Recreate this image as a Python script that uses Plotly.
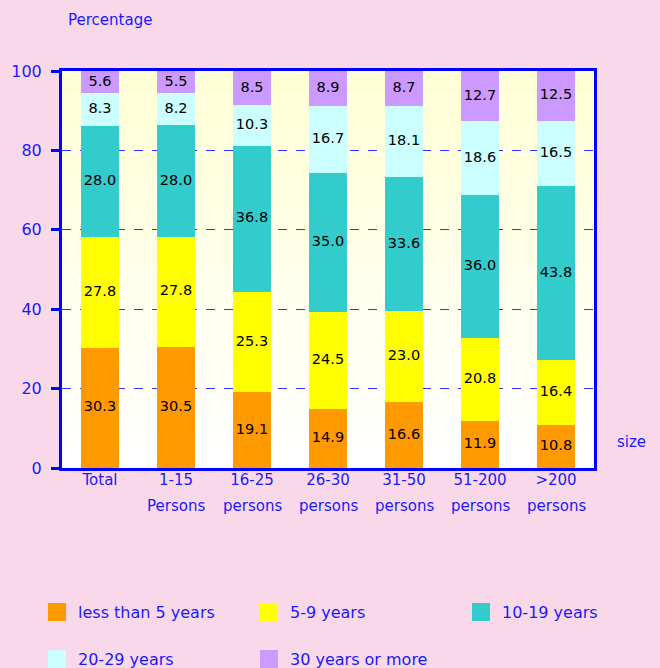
import plotly.graph_objects as go

categories = ["Total", "1-15", "16-25", "26-30", "31-50", "51-200", ">200"]
second_line = ["", "Persons", "persons", "persons", "persons", "persons", "persons"]
series_names = ["less than 5 years", "5-9 years", "10-19 years", "20-29 years", "30 years or more"]
less_than_5 = [30.3, 30.5, 19.1, 14.9, 16.6, 11.9, 10.8]
y5_9 = [27.8, 27.8, 25.3, 24.5, 23.0, 20.8, 16.4]
y10_19 = [28.0, 28.0, 36.8, 35.0, 33.6, 36.0, 43.8]
y20_29 = [8.3, 8.2, 10.3, 16.7, 18.1, 18.6, 16.5]
y30_plus = [5.6, 5.5, 8.5, 8.9, 8.7, 12.7, 12.5]
y_ticks = [0, 20, 40, 60, 80, 100]

series_values = [less_than_5, y5_9, y10_19, y20_29, y30_plus]
colors = ["#FF9900", "#FFFF00", "#33CCCC", "#CCFFFF", "#CC99FF"]

BLUE = "#1a1aff"
PINK = "#F9D9E9"
FONT = "DejaVu Sans"
W, H = 660, 668
L, R, T, B = 62, 594, 71, 468

fig = go.Figure()
base = [0.0] * len(categories)
label_x, label_y, label_t = [], [], []
for name, vals, col in zip(series_names, series_values, colors):
    fig.add_trace(go.Bar(
        x=categories, y=vals, name=name, marker=dict(color=col, line=dict(width=0)),
        width=0.5, showlegend=False, hoverinfo="x+y+name",
    ))
    for i, v in enumerate(vals):
        label_x.append(categories[i])
        label_y.append(base[i] + v / 2)
        label_t.append(f"{v:.1f}")
        base[i] += v

fig.add_trace(go.Scatter(
    x=label_x, y=label_y, text=label_t, mode="text", textposition="middle center",
    textfont=dict(color="black", size=14.5, family=FONT), showlegend=False,
    hoverinfo="skip", cliponaxis=False,
))

shapes = []
# gradient plot background
n = 40
for i in range(n):
    t = i / n
    c = (255, 255, int(213 + (255 - 213) * (1 - t)))
    shapes.append(dict(type="rect", xref="x domain", yref="y domain",
                       x0=0, x1=1, y0=t, y1=(i + 1) / n + 0.001, layer="below",
                       line=dict(width=0), fillcolor=f"rgb{c}"))

def px2x(px):
    return (px - L) / (R - L)

def py2y(py):
    return (B - py) / (B - T)

annotations = []
for cat, sl in zip(categories, second_line):
    if sl:
        annotations.append(dict(x=cat, xref="x", y=0, yref="paper", yshift=-38,
                                text=sl, showarrow=False, yanchor="middle",
                                font=dict(color=BLUE, size=15, family=FONT)))
annotations.append(dict(x=px2x(110), y=py2y(20), xref="paper", yref="paper", text="Percentage",
                        showarrow=False, xanchor="center", yanchor="middle",
                        font=dict(color=BLUE, size=15, family=FONT)))
annotations.append(dict(x=px2x(631), y=py2y(442), xref="paper", yref="paper", text="size",
                        showarrow=False, xanchor="center", yanchor="middle",
                        font=dict(color=BLUE, size=15, family=FONT)))

# manual legend
legend_pos = [(48, 612), (260, 612), (472, 612), (48, 659), (260, 659)]
for (lx, ly), name, col in zip(legend_pos, series_names, colors):
    shapes.append(dict(type="rect", xref="paper", yref="paper",
                       x0=px2x(lx), x1=px2x(lx + 18), y0=py2y(ly + 9), y1=py2y(ly - 9),
                       fillcolor=col, line=dict(width=0)))
    annotations.append(dict(x=px2x(lx + 28), y=py2y(ly), xref="paper", yref="paper",
                            text=name, showarrow=False, xanchor="left", yanchor="middle",
                            font=dict(color=BLUE, size=16, family=FONT)))

fig.update_layout(
    barmode="stack", width=W, height=H,
    margin=dict(l=L, r=W - R, t=T, b=H - B, autoexpand=False),
    paper_bgcolor=PINK, plot_bgcolor="rgba(0,0,0,0)",
    shapes=shapes, annotations=annotations, showlegend=False,
    font=dict(family=FONT, color=BLUE),
)
fig.update_xaxes(showline=True, linecolor="#0000FF", linewidth=3, mirror=True,
                 ticks="", ticklabelstandoff=-4,
                 tickfont=dict(color=BLUE, size=15, family=FONT), showgrid=False)
fig.update_yaxes(range=[0, 100.001], tickvals=y_ticks, showline=True, linecolor="#0000FF",
                 linewidth=3, mirror=True, ticks="outside", ticklen=8, tickwidth=3,
                 tickcolor="#0000FF", tickfont=dict(color=BLUE, size=16, family=FONT),
                 ticklabelstandoff=6,
                 showgrid=True, gridcolor="#3333FF", griddash="dash", gridwidth=1,
                 zeroline=False)

fig.write_html(
    "out.html",
    config={"displayModeBar": False},
    post_script=f"document.body.style.margin='0';document.body.style.background='{PINK}';"
                "document.body.style.overflow='hidden';",
)
